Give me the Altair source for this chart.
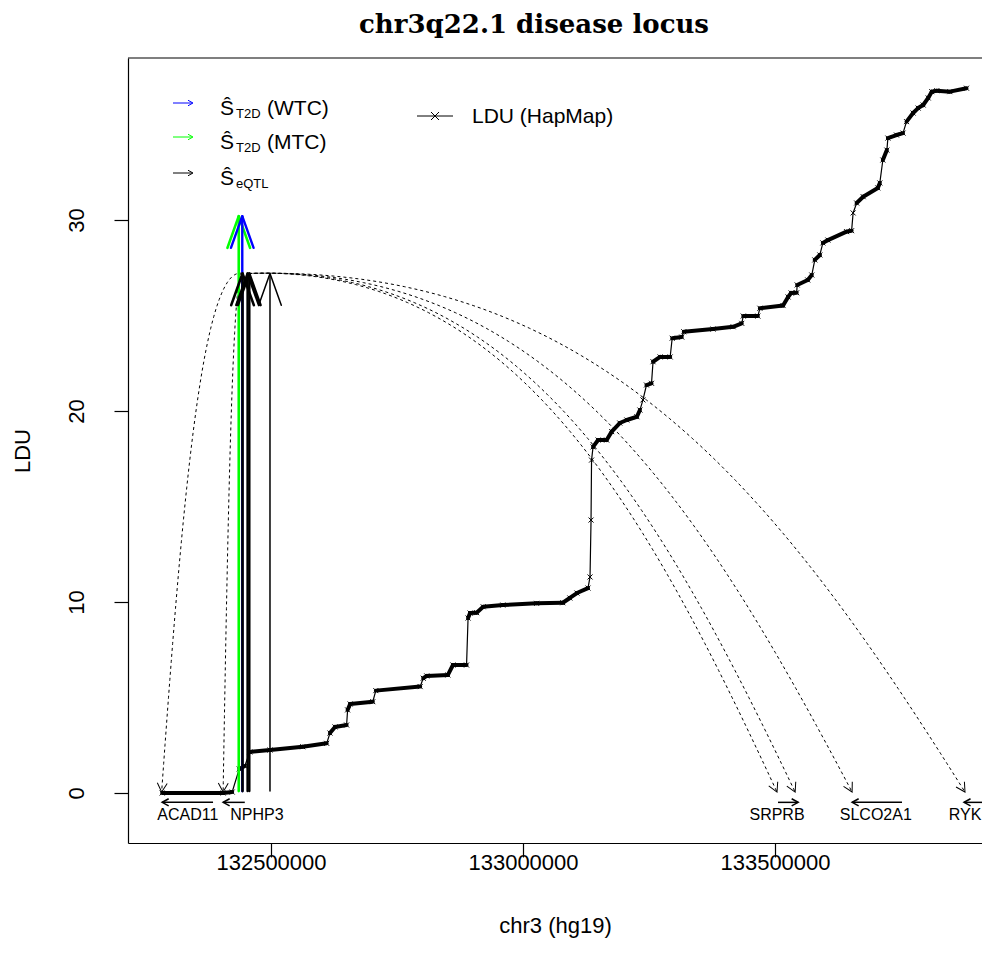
import math
import altair as alt
import numpy as np
import pandas as pd

# ---------------- data ----------------
# LDU map (HapMap): chr3 (hg19) position vs LDU
ldu_pos = [132284000, 132405000, 132423000, 132437000, 132448000, 132458000, 132498000, 132563000,
           132610500, 132617000, 132627000, 132650000, 132652000, 132657000, 132702000, 132708000,
           132796000, 132802000, 132809000, 132851000, 132861000, 132888000, 132891000, 132895000,
           132908000, 132921000, 132960000, 133027000, 133079000, 133093000, 133107000, 133129000,
           133133000, 133135000, 133136000, 133139000, 133149000, 133166000, 133176000, 133192000,
           133206000, 133226000, 133232000, 133238000, 133245000, 133255000, 133258000, 133272000,
           133292000, 133296000, 133315000, 133319000, 133377000, 133417000, 133434000, 133437000,
           133466000, 133470000, 133516000, 133526000, 133532000, 133543000, 133544000, 133565000,
           133573000, 133579000, 133589000, 133595000, 133605000, 133642000, 133652000, 133655000,
           133662000, 133675000, 133704000, 133708000, 133714000, 133722000, 133724000, 133741000,
           133754000, 133761000, 133774000, 133784000, 133794000, 133804000, 133811000, 133821000,
           133847000, 133880000]
ldu_val = [0, 0, 0.05, 1.26, 1.41, 2.15, 2.25, 2.42,
           2.60, 3.14, 3.46, 3.56, 4.35, 4.66, 4.78, 5.36,
           5.57, 6.01, 6.13, 6.18, 6.70, 6.70, 9.16, 9.42,
           9.44, 9.75, 9.84, 9.93, 9.96, 10.21, 10.47, 10.73,
           11.31, 14.29, 17.43, 18.12, 18.48, 18.48, 18.92, 19.37,
           19.53, 19.70, 20.05, 20.58, 21.36, 21.45, 22.58, 22.83,
           22.83, 23.81, 23.87, 24.15, 24.29, 24.41, 24.59, 24.97,
           24.97, 25.38, 25.52, 25.97, 26.18, 26.19, 26.60, 26.86,
           27.12, 27.91, 28.17, 28.80, 28.95, 29.39, 29.44, 30.37,
           30.89, 31.22, 31.68, 31.94, 33.14, 33.66, 34.29, 34.45,
           34.55, 35.15, 35.60, 35.86, 36.02, 36.39, 36.72, 36.77,
           36.72, 36.90]

# association signals (vertical arrows)
wtc_pos = [132443000]            # S^T2D (WTC)
wtc_top = [30.2]
mtc_pos = [132436000]            # S^T2D (MTC)
mtc_top = [30.2]
eqtl_pos = [132443500, 132453500, 132457000, 132498000]   # S^eQTL
eqtl_top = [27.2, 27.2, 27.2, 27.2]
arrow_base = 0.1

# eQTL -> gene links (dashed curved arrows)
link_src = [132443500, 132443500, 132453500, 132457000, 132457000, 132453500]
link_dst = [132283000, 132405000, 133504000, 133540000, 133653000, 133877000]
link_src_ldu = 27.2
link_dst_ldu = 0.05

# genes
gene_names = ["ACAD11", "NPHP3", "SRPRB", "SLCO2A1", "RYK"]
gene_tail = [132385000, 132448000, 133506000, 133752000, 133935000]
gene_head = [132284000, 132405000, 133546000, 133653000, 133875000]
gene_label_pos = [132335000, 132472000, 133504000, 133700000, 133877000]
gene_row = -0.49
gene_label_row = -1.15

x_ticks = [132500000, 133000000, 133500000]
y_ticks = [0, 10, 20, 30]

title_text = "chr3q22.1 disease locus"

# ---------------- layout ----------------
W, H = 854, 785
X0, X1 = 132216270, 133910714
Y0, Y1 = -2.618, 38.482
BPPX = (X1 - X0) / W
PXLDU = H / (Y1 - Y0)
FONT = "Liberation Sans"

XS = alt.Scale(domain=[X0, X1], nice=False, zero=False)
YS = alt.Scale(domain=[Y0, Y1], nice=False, zero=False)
XAX = alt.Axis(values=x_ticks, format="d", title="chr3 (hg19)", grid=False,
               tickSize=14, labelPadding=5, labelBaseline="middle", labelFontSize=22,
               titleY=82, titleBaseline="middle", labelFlush=False)
YAX = alt.Axis(values=y_ticks, title="LDU", grid=False, tickSize=14, labelPadding=38,
               labelAngle=270, labelAlign="center", labelBaseline="middle", labelFontSize=22,
               titleAngle=270, titleX=-106, titleY=H / 2, titleBaseline="middle",
               titleAlign="center")


def X(f):
    return alt.X(f, type="quantitative", scale=XS, axis=XAX)


def Y(f):
    return alt.Y(f, type="quantitative", scale=YS, axis=YAX)


UP_HEAD = "M-0.357,1L0,0L0.357,1"
SMALL_HEAD = "M-0.55,1L0,0L0.55,1"
XMARK = "M-1,-1L1,1M-1,1L1,-1"

layers = []

# ---- LDU curve ----
ldu = pd.DataFrame({"x": ldu_pos, "y": ldu_val, "i": list(range(len(ldu_pos)))})
seg = pd.DataFrame({"x": ldu_pos[:-1], "x2": ldu_pos[1:], "y": ldu_val[:-1], "y2": ldu_val[1:]})
dxp = (seg["x2"] - seg["x"]) / BPPX
dyp = (seg["y2"] - seg["y"]) * PXLDU
seg = seg[np.abs(dyp) <= 2.6 * np.abs(dxp)]

layers.append(alt.Chart(seg).mark_rule(color="black", strokeWidth=4, strokeCap="round").encode(
    x=X("x"), x2="x2", y=Y("y"), y2="y2"))
layers.append(alt.Chart(ldu).mark_line(color="black", strokeWidth=1.2).encode(
    x=X("x"), y=Y("y"), order="i:Q"))
layers.append(alt.Chart(ldu).mark_point(shape=XMARK, size=25, filled=False, color="black",
                                        strokeWidth=1, opacity=1).encode(x=X("x"), y=Y("y")))

# ---- dashed curved links ----
ts = np.linspace(0, 1, 90)


def bez(t, p1, p2):
    return 3 * (1 - t) ** 2 * t * p1 + 3 * (1 - t) * t ** 2 * p2 + t ** 3


uu = bez(ts, 0.5, 0.75)
vv = bez(ts, -0.02, 0.45)
rows, heads = [], []
for k, (s, d) in enumerate(zip(link_src, link_dst)):
    for j in range(len(ts)):
        rows.append({"k": k, "j": j, "x": s + uu[j] * (d - s),
                     "y": link_src_ldu + vv[j] * (link_dst_ldu - link_src_ldu)})
    ddx = 0.25 * (d - s) / BPPX
    ddy = 0.55 * (link_src_ldu - link_dst_ldu) * PXLDU
    ang = math.degrees(math.atan2(ddx, -ddy)) % 360
    heads.append({"x": d, "y": link_dst_ldu, "a": ang})
arcs = pd.DataFrame(rows)
arc_heads = pd.DataFrame(heads)
layers.append(alt.Chart(arcs).mark_line(color="black", strokeWidth=1, strokeDash=[3, 3], clip=True).encode(
    x=X("x"), y=Y("y"), detail="k:N", order="j:Q"))
layers.append(alt.Chart(arc_heads).mark_point(shape=SMALL_HEAD, size=324, filled=False, color="black",
                                              strokeWidth=1, opacity=1).encode(
    x=X("x"), y=Y("y"), angle=alt.Angle("a:Q", scale=None)))

# ---- genes ----
genes = pd.DataFrame({"name": gene_names, "tail": gene_tail, "head": gene_head,
                      "lab": gene_label_pos})
genes["row"] = gene_row
genes["lrow"] = gene_label_row
genes["a"] = [90 if h > t else 270 for h, t in zip(gene_head, gene_tail)]
layers.append(alt.Chart(genes).mark_rule(color="black", strokeWidth=1.5, clip=True).encode(
    x=X("tail"), x2="head", y=Y("row")))
layers.append(alt.Chart(genes).mark_point(shape=SMALL_HEAD, size=170, filled=False, color="black",
                                          strokeWidth=1.5, opacity=1).encode(
    x=X("head"), y=Y("row"), angle=alt.Angle("a:Q", scale=None)))
layers.append(alt.Chart(genes).mark_text(font=FONT, fontSize=16, color="black", baseline="middle",
                                         align="center").encode(
    x=X("lab"), y=Y("lrow"), text="name:N"))

# ---- vertical signal arrows ----
def arrows(pos, top, color, widths):
    df = pd.DataFrame({"x": pos, "top": top, "base": [arrow_base] * len(pos), "w": widths})
    out = []
    out.append(alt.Chart(df).mark_rule(color=color, strokeCap="round").encode(
        x=X("x"), y=Y("base"), y2="top", strokeWidth=alt.StrokeWidth("w:Q", scale=None)))
    out.append(alt.Chart(df).mark_point(shape=UP_HEAD, size=4020, filled=False, color=color,
                                        opacity=1, strokeCap="round", strokeJoin="round").encode(
        x=X("x"), y=Y("top"), strokeWidth=alt.StrokeWidth("w:Q", scale=None)))
    return out


layers += arrows(mtc_pos, mtc_top, "#00ff00", [2.6])
layers += arrows(wtc_pos, wtc_top, "#0000ff", [2.4])
layers += arrows(eqtl_pos, eqtl_top, "black", [2.6, 2.4, 2.4, 1.5])

# ---- legend (pixel positions inside the plot area) ----
one = pd.DataFrame({"d": [0]})
leg_rows = [("#0000ff", 45, 57, "T2D", "(WTC)"),
            ("#00ff00", 79, 91, "T2D", "(MTC)"),
            ("black", 115, 127, "eQTL", "")]
for col, ay, by, sub, rest in leg_rows:
    layers.append(alt.Chart(one).mark_rule(color=col, strokeWidth=1).encode(
        x=alt.value(45), x2=alt.value(64), y=alt.value(ay)))
    layers.append(alt.Chart(one).mark_point(shape=SMALL_HEAD, size=100, filled=False, color=col,
                                            strokeWidth=1, opacity=1, angle=90).encode(
        x=alt.value(65), y=alt.value(ay)))
    layers.append(alt.Chart(one).mark_text(text="Ŝ", font=FONT, fontSize=21, align="left",
                                           baseline="alphabetic", color="black").encode(
        x=alt.value(92), y=alt.value(by)))
    layers.append(alt.Chart(one).mark_text(text=sub, font=FONT, fontSize=13, align="left",
                                           baseline="alphabetic", color="black").encode(
        x=alt.value(108), y=alt.value(by + 3)))
    if rest:
        layers.append(alt.Chart(one).mark_text(text=rest, font=FONT, fontSize=21, align="left",
                                               baseline="alphabetic", color="black").encode(
            x=alt.value(139), y=alt.value(by)))

layers.append(alt.Chart(one).mark_rule(color="black", strokeWidth=1).encode(
    x=alt.value(289), x2=alt.value(325), y=alt.value(58)))
layers.append(alt.Chart(one).mark_point(shape=XMARK, size=64, filled=False, color="black",
                                        strokeWidth=1, opacity=1).encode(
    x=alt.value(307), y=alt.value(58)))
layers.append(alt.Chart(one).mark_text(text="LDU (HapMap)", font=FONT, fontSize=21, align="left",
                                       baseline="alphabetic", color="black").encode(
    x=alt.value(344), y=alt.value(65)))

# top frame line
layers.append(alt.Chart(one).mark_rule(color="black", strokeWidth=1.2).encode(
    x=alt.value(0), x2=alt.value(W), y=alt.value(0)))

# title
layers.append(alt.Chart(one).mark_text(text=title_text, font="DejaVu Serif", fontWeight="bold",
                                       fontSize=26, align="center", baseline="alphabetic",
                                       color="black").encode(
    x=alt.value(406), y=alt.value(-25)))

chart = alt.layer(*layers).properties(
    width=W, height=H,
    padding={"left": 120, "top": 50, "right": 0, "bottom": 100},
    autosize=alt.AutoSizeParams(type="none"),
).configure_view(stroke=None).configure_axis(
    labelFont=FONT, titleFont=FONT, titleFontSize=22, titleFontWeight="normal",
    labelColor="black", titleColor="black", domainColor="black", tickColor="black",
    domainWidth=1.2, tickWidth=1.2,
)

chart.save("out.html", embed_options={"renderer": "svg", "actions": False})
